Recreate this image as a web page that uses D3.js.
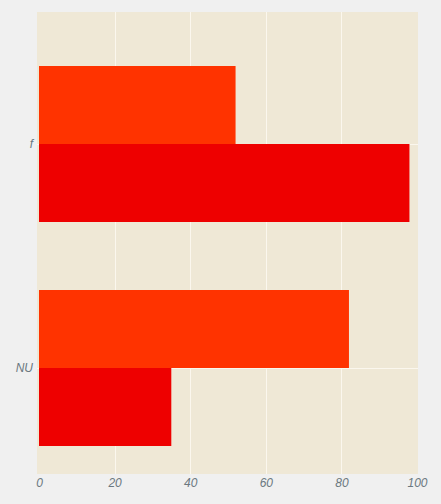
<!DOCTYPE html>
<html><head><meta charset="utf-8">
<script src="https://cdn.jsdelivr.net/npm/d3@7"></script>
<style>
html,body{margin:0;padding:0;background:#f0f0f0;}
svg{display:block;}
</style></head>
<body>
<script>
const categories = ["f", "NU"];
const seriesNames = ["s1", "s2"];
const seriesColors = ["#ff3300", "#ee0000"];
const values = {
  s1: [52, 82],
  s2: [98, 35]
};
const xTicks = [0, 20, 40, 60, 80, 100];

const W = 441, H = 504;
const svg = d3.select("body").append("svg").attr("width", W).attr("height", H);
svg.append("rect").attr("width", W).attr("height", H).attr("fill", "#f0f0f0");

const plot = {left: 37, right: 418, top: 12, bottom: 474};
svg.append("rect").attr("x", plot.left).attr("y", plot.top)
  .attr("width", plot.right - plot.left).attr("height", plot.bottom - plot.top)
  .attr("fill", "#efe8d6");

const x = d3.scaleLinear().domain([0, 100]).range([39, 417]);
const y0 = d3.scaleBand().domain(categories).range([32, 480]).padding(0);
const y1 = d3.scaleBand().domain(seriesNames).range([34, 190]).padding(0);

// grid
const g = svg.append("g");
g.selectAll("line.v").data(xTicks.slice(1, -1)).join("line")
  .attr("x1", d => Math.round(x(d)) + 0.5).attr("x2", d => Math.round(x(d)) + 0.5)
  .attr("y1", plot.top).attr("y2", plot.bottom)
  .attr("stroke", "#fbf7ee").attr("stroke-width", 1);
g.selectAll("line.h").data(categories).join("line")
  .attr("x1", plot.left).attr("x2", plot.right)
  .attr("y1", d => y0(d) + y0.bandwidth() / 2 + 0.5).attr("y2", d => y0(d) + y0.bandwidth() / 2 + 0.5)
  .attr("stroke", "#fbf7ee").attr("stroke-width", 1);

// bars
const groups = svg.append("g").selectAll("g").data(categories).join("g")
  .attr("transform", d => `translate(0,${y0(d)})`);
groups.selectAll("rect").data((c, i) => seriesNames.map((s, j) => ({s, v: values[s][i], j})))
  .join("rect")
  .attr("x", x(0))
  .attr("y", d => y1(d.s))
  .attr("width", d => x(d.v) - x(0))
  .attr("height", y1.bandwidth())
  .attr("fill", d => seriesColors[d.j]);

// axes
const xAxis = d3.axisBottom(x).tickValues(xTicks).tickSize(0).tickPadding(0);
const xa = svg.append("g").attr("transform", `translate(0,${plot.bottom})`).call(xAxis);
xa.select(".domain").remove();
xa.selectAll("text").attr("dy", null).attr("y", 13)
  .style("font-family", "'Liberation Sans', Arial, sans-serif")
  .style("font-style", "italic").style("font-size", "12px").attr("fill", "#6b7880");

const yAxis = d3.axisLeft(y0).tickSize(0).tickPadding(0);
const ya = svg.append("g").attr("transform", `translate(33,0)`).call(yAxis);
ya.select(".domain").remove();
ya.selectAll("text").attr("dy", "0.35em")
  .style("font-family", "'Liberation Sans', Arial, sans-serif")
  .style("font-style", "italic").style("font-size", "12px").attr("fill", "#6b7880");
</script>
</body></html>
